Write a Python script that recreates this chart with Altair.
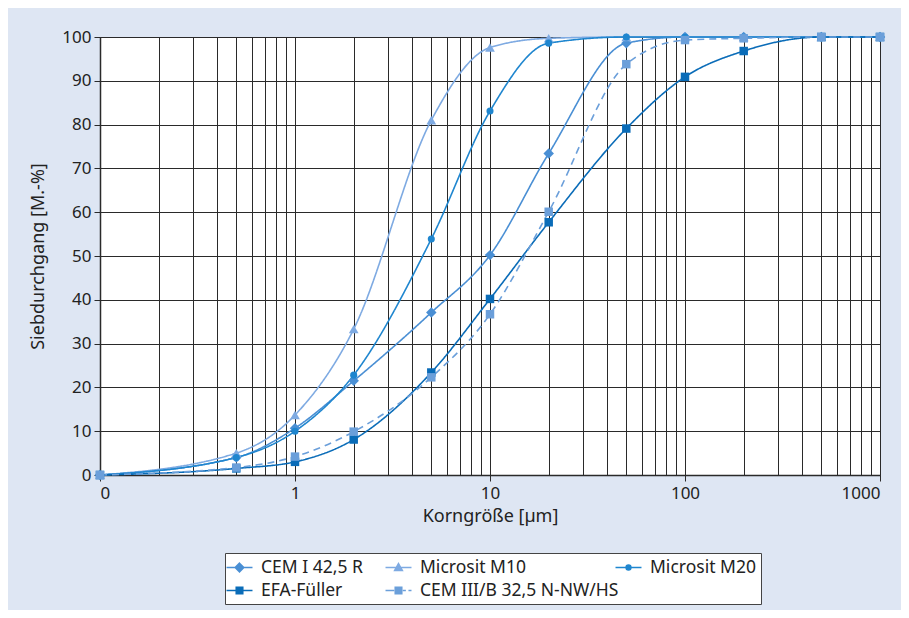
import altair as alt
import pandas as pd

sizes = [0.1, 0.5, 1, 2, 5, 10, 20, 50, 100, 200, 500, 1000]
series_names = ["CEM I 42,5 R", "Microsit M10", "Microsit M20", "EFA-Füller", "CEM III/B 32,5 N-NW/HS"]
cem1 = [0, 4.0, 10.7, 21.5, 37.1, 50.2, 73.4, 98.6, 100, 100, 100, 100]
m10 = [0, 5.0, 13.7, 33.3, 81.0, 97.6, 99.7, 100, 100, 100, 100, 100]
m20 = [0, 4.0, 10.0, 22.8, 53.9, 83.1, 98.6, 100, 100, 100, 100, 100]
efa = [0, 1.5, 3.0, 8.1, 23.4, 40.2, 57.7, 79.1, 90.9, 96.8, 100, 100]
cem3 = [0, 1.7, 4.2, 9.9, 22.3, 36.7, 60.1, 93.8, 99.3, 99.7, 100, 100]

colors = ["#4a8fd4", "#7eaae2", "#1f86cf", "#0a6cb8", "#6b9fda"]
dashes = [[1, 0], [1, 0], [1, 0], [1, 0], [7, 5]]
# legend symbols: line + marker; the first one carries an extra (invisible) move-to that widens
# the first legend column so the second column starts where it does in the original
legend_paths = [
    "M-1.5,0L1.5,0M0,-0.5L0.5,0L0,0.5L-0.5,0ZM16.9,0",
    "M-1.5,0L1.5,0M0,-0.45L0.45,0.35L-0.45,0.35Z",
    "M-1.5,0L1.5,0M-0.28,0A0.28,0.28 0 1,0 0.28,0A0.28,0.28 0 1,0 -0.28,0Z",
    "M-1.5,0L1.5,0M-0.38,-0.38L0.38,-0.38L0.38,0.38L-0.38,0.38Z",
    "M-1.5,0L-0.5,0M0.5,0L0.85,0M1.15,0L1.5,0M-0.38,-0.38L0.38,-0.38L0.38,0.38L-0.38,0.38Z",
]

rows = []
for i, (name, vals) in enumerate(zip(series_names, [cem1, m10, m20, efa, cem3])):
    for s, v in zip(sizes, vals):
        rows.append({"series": name, "size": s, "value": v, "order": i})
df = pd.DataFrame(rows)

grid_vals = [round(m * 10 ** e, 6) for e in range(-1, 3) for m in range(1, 10)] + [1000]
dec_test = "datum.value == 0.1 || datum.value == 1 || datum.value == 10 || datum.value == 100 || datum.value == 1000"

FONT = "Noto Sans"

x_enc = alt.X(
    "size:Q",
    scale=alt.Scale(type="log", domain=[0.1, 1000], nice=False),
    axis=alt.Axis(
        values=grid_vals,
        labelExpr="datum.value == 0.1 ? '0' : ((" + dec_test + ") ? '' + datum.value : '')",
        tickOpacity={"condition": {"test": dec_test, "value": 1}, "value": 0},
        tickSize=6,
        labelPadding=4,
        title="Korngröße [µm]",
        titlePadding=6,
    ),
)
y_enc = alt.Y(
    "value:Q",
    scale=alt.Scale(domain=[0, 100], nice=False),
    axis=alt.Axis(values=list(range(0, 101, 10)), tickSize=6, labelPadding=3,
                  title="Siebdurchgang [M.-%]", titlePadding=14),
)
# reversed order for the un-legended colour/dash scales so they are not merged with the legend
rev_names = series_names[::-1]
color_enc = alt.Color("series:N", scale=alt.Scale(domain=rev_names, range=colors[::-1]), legend=None)

lines = alt.Chart(df).mark_line(interpolate="monotone", strokeWidth=1.6).encode(
    x=x_enc, y=y_enc, color=color_enc,
    strokeDash=alt.StrokeDash("series:N", scale=alt.Scale(domain=rev_names, range=dashes[::-1]), legend=None),
    order="order:Q",
)

point_layers = []
for shp, sz, idxs in [("diamond", 110, [0]), ("triangle-up", 95, [1]), ("circle", 50, [2]), ("square", 72, [3, 4])]:
    names = [series_names[i] for i in idxs]
    point_layers.append(
        alt.Chart(df).transform_filter(alt.FieldOneOfPredicate(field="series", oneOf=names))
        .mark_point(filled=True, opacity=1, shape=shp, size=sz)
        .encode(x=x_enc, y=y_enc, color=color_enc)
    )

leg = alt.Legend(
    title=None, orient="none", legendX=125, legendY=516, columns=3, direction="horizontal",
    gridAlign="each",
    fillColor="white", strokeColor="#444", padding=5,
    labelFont=FONT, labelFontSize=17.5, labelColor="#222", labelOffset=12,
    symbolSize=300, symbolStrokeWidth=1.5, symbolOpacity=1,
    columnPadding=-49, rowPadding=5, labelLimit=400,
)
legend_layer = alt.Chart(df).transform_filter("datum.size < 0").mark_point(filled=True, strokeWidth=1.5).encode(
    x=x_enc, y=y_enc,
    fill=alt.Fill("series:N", scale=alt.Scale(domain=series_names, range=colors), legend=leg),
    stroke=alt.Stroke("series:N", scale=alt.Scale(domain=series_names, range=colors), legend=leg),
    shape=alt.Shape("series:N", scale=alt.Scale(domain=series_names, range=legend_paths), legend=leg),
)

chart = alt.layer(lines, *point_layers, legend_layer).properties(
    width=780, height=438,
    autosize=alt.AutoSizeParams(type="none"),
    padding={"left": 92, "top": 29, "right": 21, "bottom": 135},
    background="#dee6f3",
).configure_view(fill="white", stroke="#333", strokeWidth=1).configure_axis(
    grid=True, gridColor="#2a2a2a", gridWidth=1, gridOpacity=1,
    domainColor="#2a2a2a", domainWidth=1.5, tickColor="#2a2a2a",
    labelFont=FONT, labelFontSize=17, labelColor="#222",
    titleFont=FONT, titleFontSize=18, titleFontWeight="normal", titleColor="#222",
)

chart.save("out.html", embed_options={"renderer": "svg", "actions": False})
